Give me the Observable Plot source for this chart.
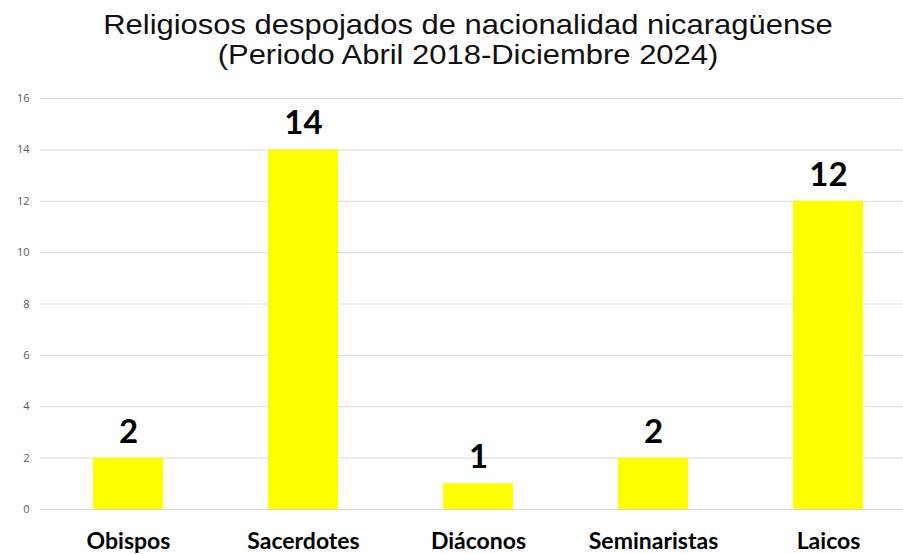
<!DOCTYPE html>
<html>
<head>
<meta charset="utf-8">
<script src="https://cdn.jsdelivr.net/npm/d3@7"></script>
<script src="https://cdn.jsdelivr.net/npm/@observablehq/plot@0.6"></script>
<style>
  html, body { margin: 0; padding: 0; background: #fff; overflow: hidden; }
  #wrap { width: 903px; height: 554px; position: relative; }
  #title { height: 88px; width: 903px; text-align: center; font-family: "Liberation Sans", Arial, sans-serif; font-size: 28.5px; line-height: 30px; color: #111; padding-top: 9px; box-sizing: border-box; padding-left: 33px; transform: scaleX(1.086); transform-origin: 468px 0; }
  svg { display: block; }
</style>
</head>
<body>
<div id="wrap">
  <div id="title">Religiosos despojados de nacionalidad nicaragüense<br>(Periodo Abril 2018-Diciembre 2024)</div>
  <div id="chart"></div>
</div>
<script>
const categories = ["Obispos", "Sacerdotes", "Diáconos", "Seminaristas", "Laicos"];
const values = [2, 14, 1, 2, 12];
const yTicks = [0, 2, 4, 6, 8, 10, 12, 14, 16];

const data = categories.map((c, i) => ({ categoria: c, valor: values[i] }));

const chart = Plot.plot({
  width: 903,
  height: 466,
  marginTop: 10,
  marginBottom: 45,
  marginLeft: 40,
  marginRight: -13,
  style: { fontFamily: "Lato, 'Open Sans', sans-serif", background: "#fff" },
  x: { domain: categories, paddingInner: 0.6, paddingOuter: 0.3, label: null },
  y: { domain: [0, 16], ticks: yTicks, label: null },
  marks: [
    Plot.gridY(yTicks, { stroke: "#d9d9d9", strokeOpacity: 1, strokeWidth: 1 }),
    Plot.axisY(yTicks, { tickSize: 0, tickPadding: 11, fontSize: 11, fill: "#595959", label: null, fontFamily: "'Open Sans', sans-serif" }),
    Plot.barY(data, { x: "categoria", y: "valor", fill: "#ffff00" }),
    Plot.text(data, { x: "categoria", y: "valor", text: d => String(d.valor), dy: -26, fontSize: 33, fontWeight: "bold", fill: "#000", fontFamily: "Lato, sans-serif" }),
    Plot.axisX({ tickSize: 0, tickPadding: 23, fontSize: 23, fontWeight: "bold", fill: "#000", label: null, fontFamily: "Lato, sans-serif" })
  ]
});
document.getElementById("chart").appendChild(chart);
</script>
</body>
</html>
